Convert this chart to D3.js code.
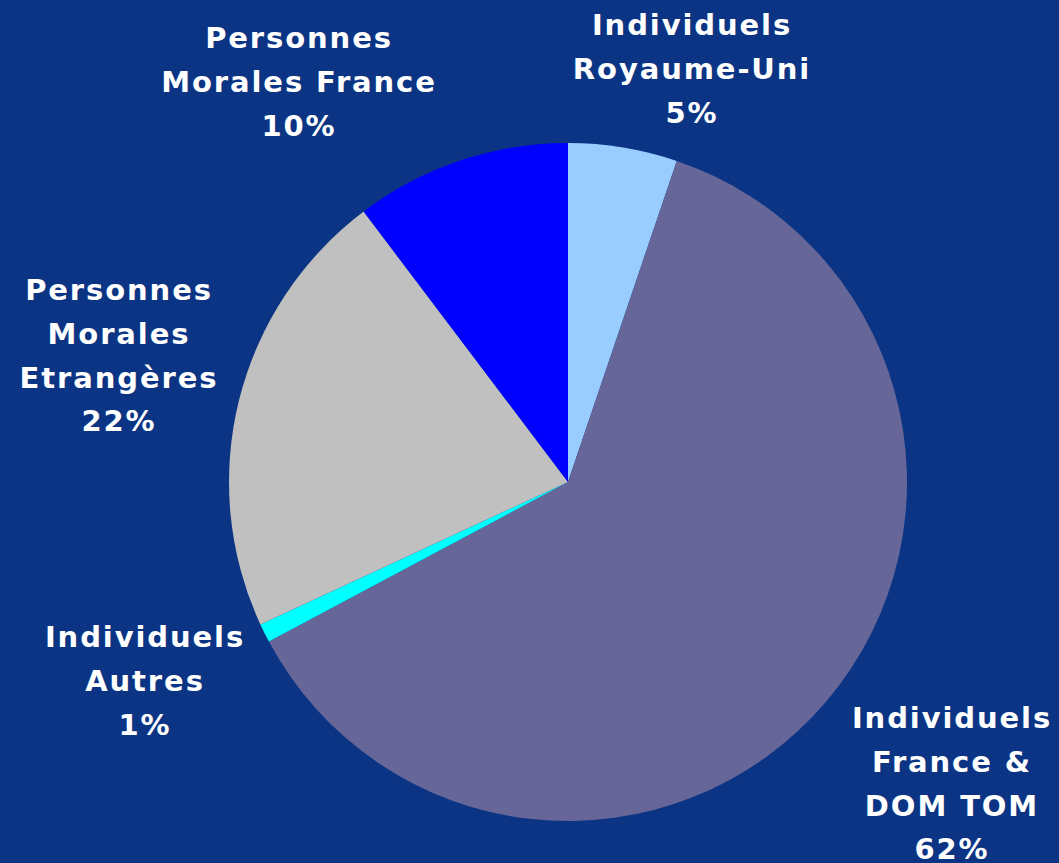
<!DOCTYPE html>
<html>
<head>
  <title>Répartition</title>
  <style>
    html, body { margin:0; padding:0; background:#0b3584; }
    svg { display:block; }
  </style>
  <script src="https://d3js.org/d3.v7.min.js"></script>
</head>
<body>
<svg id="canvas" width="1059" height="863"></svg>
<script>
  // slices, clockwise from 12 o'clock
  var categories = ["Individuels Royaume-Uni", "Individuels France & DOM TOM", "Individuels Autres",
                    "Personnes Morales Etrangères", "Personnes Morales France"];
  var shares = [5.2, 62.0, 0.9, 21.6, 10.3];
  var pctLabels = ["5%", "62%", "1%", "22%", "10%"];
  var labelLines = [
    ["Individuels", "Royaume-Uni"],
    ["Individuels", "France &", "DOM TOM"],
    ["Individuels", "Autres"],
    ["Personnes", "Morales", "Etrangères"],
    ["Personnes", "Morales France"]
  ];

  var colors = ["#99ccff", "#666699", "#00ffff", "#c0c0c0", "#0000ff"];

  var width = 1059, height = 863;
  var cx = 568, cy = 482, radius = 339;

  // where each label block sits (center x, first baseline)
  var labelPos = [[691, 35], [951, 728], [144, 647], [118, 300], [298, 48]];
  var lineStep = 43.8;

  var svg = d3.select("#canvas");

  svg.append("rect")
    .attr("width", width)
    .attr("height", height)
    .attr("fill", "#0b3584");

  var pie = d3.pie().sort(null).value(function(d) { return d; });
  var arc = d3.arc().innerRadius(0).outerRadius(radius);

  var g = svg.append("g").attr("transform", "translate(" + cx + "," + cy + ")");

  g.selectAll("path")
    .data(pie(shares))
    .enter().append("path")
    .attr("d", arc)
    .attr("fill", function(d, i) { return colors[i]; });

  // labels
  categories.forEach(function(c, i) {
    var lines = labelLines[i].concat([pctLabels[i]]);
    var t = svg.append("text")
      .attr("text-anchor", "middle")
      .style("fill", "white")
      .style("font-family", "'DejaVu Sans', Verdana, sans-serif")
      .style("font-weight", "bold")
      .style("font-size", "29px")
      .style("letter-spacing", "1.9px");
    lines.forEach(function(l, j) {
      t.append("tspan")
        .attr("x", labelPos[i][0] + 1)
        .attr("y", labelPos[i][1] + j * lineStep)
        .text(l);
    });
  });
</script>
</body>
</html>
